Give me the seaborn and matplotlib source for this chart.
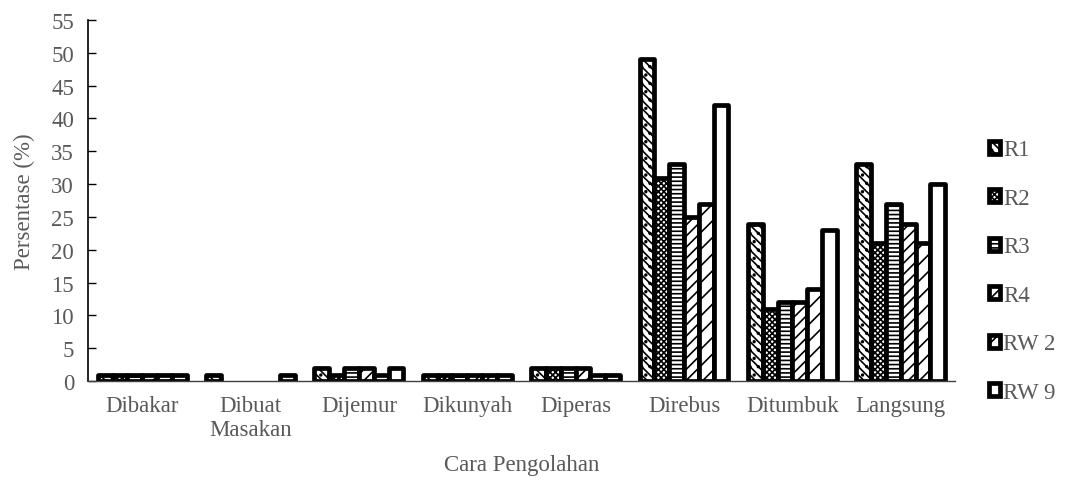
import matplotlib
matplotlib.use("Agg")
import matplotlib.pyplot as plt
import seaborn as sns
import pandas as pd
from matplotlib.patches import Patch

categories = ["Dibakar", "Dibuat\nMasakan", "Dijemur", "Dikunyah", "Diperas",
              "Direbus", "Ditumbuk", "Langsung"]
series = ["R1", "R2", "R3", "R4", "RW 2", "RW 9"]
r1 = [1, 1, 2, 1, 2, 49, 24, 33]
r2 = [1, 0, 1, 1, 2, 31, 11, 21]
r3 = [1, 0, 2, 1, 2, 33, 12, 27]
r4 = [1, 0, 2, 1, 2, 25, 12, 24]
rw2 = [1, 0, 1, 1, 1, 27, 14, 21]
rw9 = [1, 1, 2, 1, 1, 42, 23, 30]
values = [r1, r2, r3, r4, rw2, rw9]
yticks = list(range(0, 56, 5))

rows = []
for name, vals in zip(series, values):
    for cat, v in zip(categories, vals):
        rows.append({"Cara Pengolahan": cat, "Persentase": v, "Seri": name})
df = pd.DataFrame(rows)

sns.set_theme(style="white")
plt.rcParams["font.family"] = ["Liberation Serif", "DejaVu Serif"]
plt.rcParams["hatch.linewidth"] = 1.2
grey = "#595959"
fs = 16.5

fig, ax = plt.subplots(figsize=(10.73, 4.85), dpi=100)
fig.subplots_adjust(left=0.082, right=0.89, top=0.957, bottom=0.212)

sns.barplot(data=df, x="Cara Pengolahan", y="Persentase", hue="Seri",
            order=categories, hue_order=series, width=0.82,
            color="white", saturation=1, legend=False, ax=ax)

hatches = ["\\\\\\\\..", "xxxxxx", "----", "///", "//", ""]
for cont, h in zip(ax.containers, hatches):
    for bar in cont:
        bar.set_facecolor("white")
        bar.set_edgecolor("black")
        bar.set_linewidth(3.4)
        bar.set_hatch(h)
        bar.set_joinstyle("round")
        if bar.get_height() == 0:
            bar.set_visible(False)

ax.set_ylim(0, 55)
ax.set_yticks(yticks)
ax.set_xlim(-0.5, len(categories) - 0.5)
ax.tick_params(axis="y", direction="in", length=6, width=1, color="black",
               labelsize=fs, labelcolor=grey, left=True, pad=10)
ax.tick_params(axis="x", length=0, labelsize=fs, labelcolor=grey, pad=10)
for s in ["top", "right"]:
    ax.spines[s].set_visible(False)
ax.spines["left"].set_color("black")
ax.spines["left"].set_linewidth(1.2)
ax.spines["bottom"].set_color("#404040")
ax.spines["bottom"].set_linewidth(1.0)
ax.set_ylabel("Persentase (%)", fontsize=fs, color=grey, labelpad=12)
ax.set_xlabel("Cara Pengolahan", fontsize=fs, color=grey, labelpad=10)

handles = [Patch(facecolor="white", edgecolor="black", linewidth=3.4,
                 hatch=h, label=s) for s, h in zip(series, hatches)]
leg = ax.legend(handles=handles, loc="center left", bbox_to_anchor=(1.015, 0.305),
                frameon=False, fontsize=fs, handlelength=0.5, handleheight=0.5,
                handletextpad=0.15, labelspacing=1.2, labelcolor=grey)

fig.savefig("out.png", dpi=100)
